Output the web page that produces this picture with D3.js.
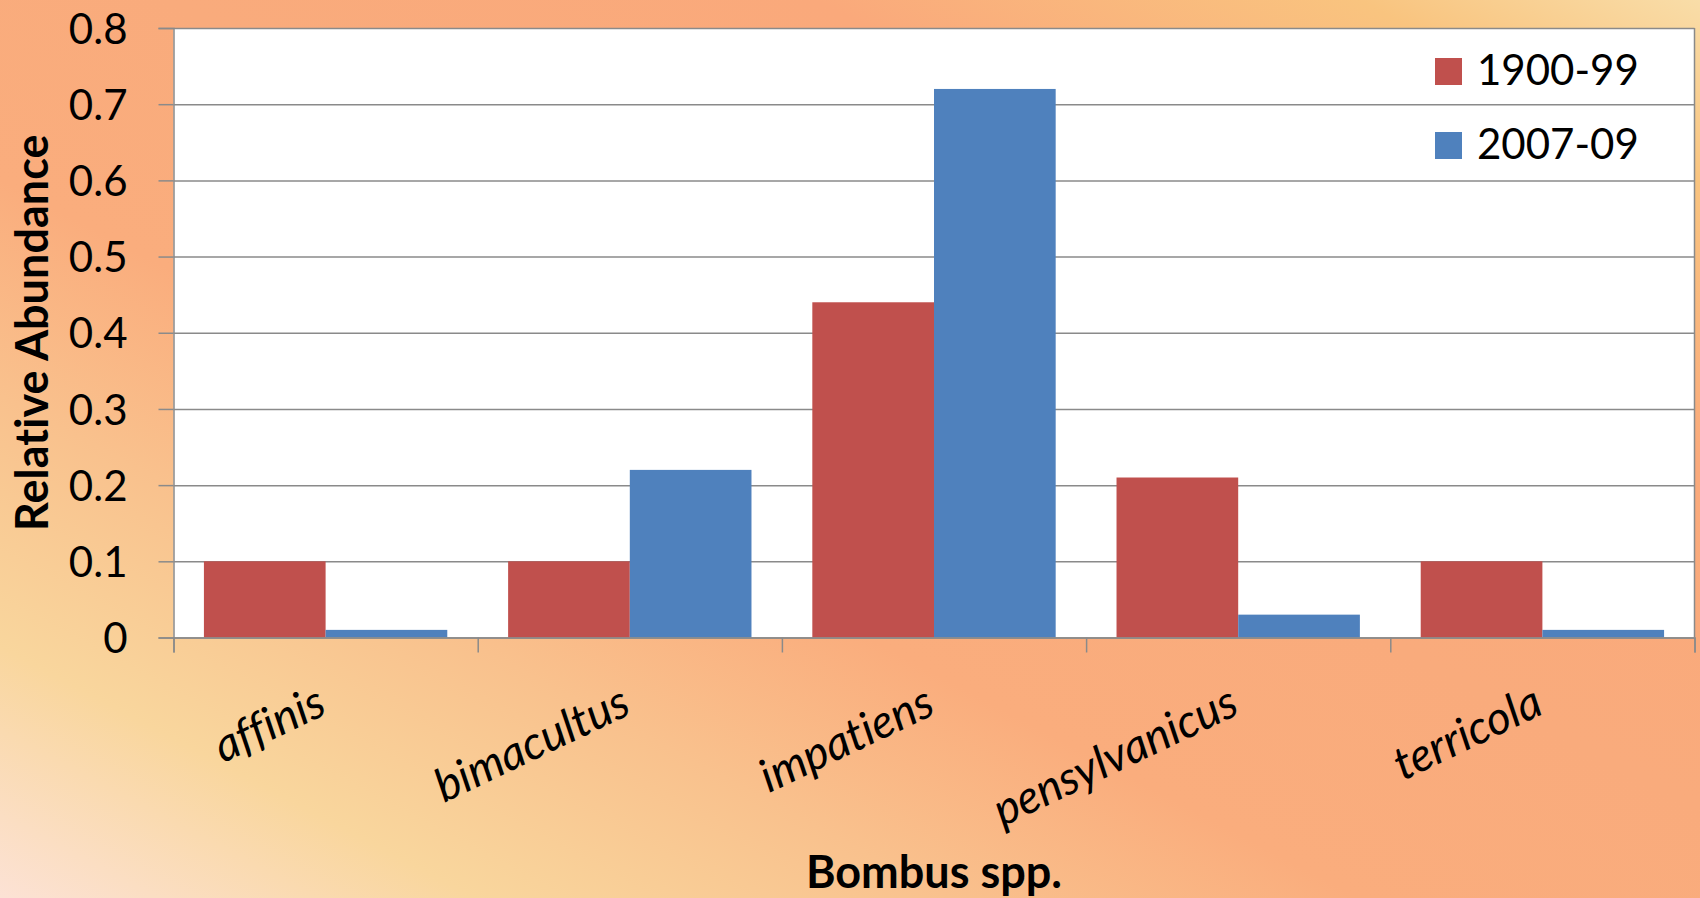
<!DOCTYPE html>
<html>
<head>
<meta charset="utf-8">
<script src="https://cdn.jsdelivr.net/npm/d3@7"></script>
<style>
  html, body { margin: 0; padding: 0; background: #ffffff; }
  svg { display: block; }
  text { font-family: "Lato", "Carlito", "Open Sans", sans-serif; fill: #000; font-variant-ligatures: none; }
</style>
</head>
<body>
<svg id="chart" width="1700" height="898"></svg>
<script>
// Relative abundance of Bombus species, historical vs recent survey
const categories = ["affinis", "bimacultus", "impatiens", "pensylvanicus", "terricola"];
const seriesNames = ["1900-99", "2007-09"];
const values1900s = [0.10, 0.10, 0.44, 0.21, 0.10];
const values2007s = [0.01, 0.22, 0.72, 0.03, 0.01];
const seriesColors = ["#C0504D", "#4F81BD"];
const yTickValues = [0, 0.1, 0.2, 0.3, 0.4, 0.5, 0.6, 0.7, 0.8];
const yTitle = "Relative Abundance";
const xTitle = "Bombus spp.";

const W = 1700, H = 898;
const plot = { left: 173.5, right: 1694.5, top: 28, bottom: 637.5 };

const svg = d3.select("#chart");

// Warm sunset-style background fill
const defs = svg.append("defs");
const grad = defs.append("linearGradient")
  .attr("id", "bg")
  .attr("x1", 0).attr("y1", 1).attr("x2", 1).attr("y2", 0);
[
  [0.00, "#FCE2D5"],
  [0.14, "#F9D69D"],
  [0.28, "#F9C18D"],
  [0.40, "#FAAD7D"],
  [0.55, "#F9AB7C"],
  [0.74, "#FAA97B"],
  [0.90, "#F9C47F"],
  [1.00, "#F9DDA8"]
].forEach(([o, c]) => grad.append("stop").attr("offset", o).attr("stop-color", c));

svg.append("rect").attr("width", W).attr("height", H).attr("fill", "url(#bg)");

// Scales
const x = d3.scaleBand()
  .domain(categories)
  .range([plot.left, plot.right])
  .paddingInner(0.2)
  .paddingOuter(0.1);
const xSub = d3.scaleBand().domain(seriesNames).range([0, x.bandwidth()]);
const xEdges = d3.scaleLinear().domain([0, categories.length]).range([plot.left, plot.right]);
const y = d3.scaleLinear().domain([0, 0.8]).range([plot.bottom, plot.top]);

// Plot area
svg.append("rect")
  .attr("x", plot.left).attr("y", plot.top)
  .attr("width", plot.right - plot.left).attr("height", plot.bottom - plot.top)
  .attr("fill", "#ffffff");

// Horizontal gridlines
const grid = svg.append("g")
  .attr("transform", `translate(${plot.left},0)`)
  .call(d3.axisLeft(y).tickValues(yTickValues).tickSize(-(plot.right - plot.left)).tickFormat(""));
grid.select(".domain").remove();
grid.selectAll("line").attr("stroke", "#8A8A8A").attr("stroke-width", 1.5);

// Bars
const rows = categories.map((c, i) => ({ cat: c, vals: [values1900s[i], values2007s[i]] }));
const groups = svg.append("g").selectAll("g").data(rows).join("g")
  .attr("transform", d => `translate(${x(d.cat)},0)`);
groups.selectAll("rect")
  .data(d => d.vals.map((v, k) => ({ name: seriesNames[k], v, k })))
  .join("rect")
  .attr("x", d => xSub(d.name))
  .attr("width", xSub.bandwidth())
  .attr("y", d => y(d.v))
  .attr("height", d => y(0) - y(d.v))
  .attr("fill", d => seriesColors[d.k]);

// Right border of plot area
svg.append("line")
  .attr("x1", plot.right).attr("x2", plot.right)
  .attr("y1", plot.top).attr("y2", plot.bottom)
  .attr("stroke", "#8A8A8A").attr("stroke-width", 1.5);

// Y axis
const yAxis = svg.append("g")
  .attr("transform", `translate(${plot.left},0)`)
  .call(d3.axisLeft(y).tickValues(yTickValues).tickSize(15).tickPadding(31)
    .tickFormat(d => d === 0 ? "0" : d3.format(".1f")(d)));
yAxis.select(".domain").attr("stroke", "#8A8A8A").attr("stroke-width", 1.5);
yAxis.selectAll("line").attr("stroke", "#8A8A8A").attr("stroke-width", 1.5);
yAxis.selectAll("text")
  .attr("font-size", 42).attr("dy", "0.36em")
  .style("font-family", "Lato, Carlito, sans-serif");

// X axis (ticks at category boundaries)
const xAxis = svg.append("g")
  .attr("transform", `translate(0,${plot.bottom})`)
  .call(d3.axisBottom(xEdges).tickValues(d3.range(categories.length + 1)).tickSize(15).tickFormat(""));
xAxis.select(".domain").attr("stroke", "#8A8A8A").attr("stroke-width", 1.5);
xAxis.selectAll("line").attr("stroke", "#8A8A8A").attr("stroke-width", 1.5);

// Rotated italic category labels
svg.append("g").selectAll("text").data(categories).join("text")
  .attr("transform", d => `translate(${x(d) + x.bandwidth() / 2 + 3},713) rotate(-25.5)`)
  .attr("text-anchor", "end")
  .attr("font-size", 46)
  .attr("font-style", "italic")
  .text(d => d);

// Axis titles
svg.append("text")
  .attr("transform", `translate(48,${(plot.top + plot.bottom) / 2}) rotate(-90)`)
  .attr("text-anchor", "middle")
  .attr("font-size", 45)
  .attr("font-weight", "bold")
  .text(yTitle);

svg.append("text")
  .attr("x", (plot.left + plot.right) / 2)
  .attr("y", 888)
  .attr("text-anchor", "middle")
  .attr("font-size", 45)
  .attr("font-weight", "bold")
  .text(xTitle);

// Legend
const legend = svg.append("g").selectAll("g").data(seriesNames).join("g")
  .attr("transform", (d, i) => `translate(1435,${58 + i * 74})`);
legend.append("rect")
  .attr("width", 27).attr("height", 27)
  .attr("fill", (d, i) => seriesColors[i]);
legend.append("text")
  .attr("x", 42).attr("y", 27)
  .attr("font-size", 42)
  .text(d => d);
</script>
</body>
</html>
